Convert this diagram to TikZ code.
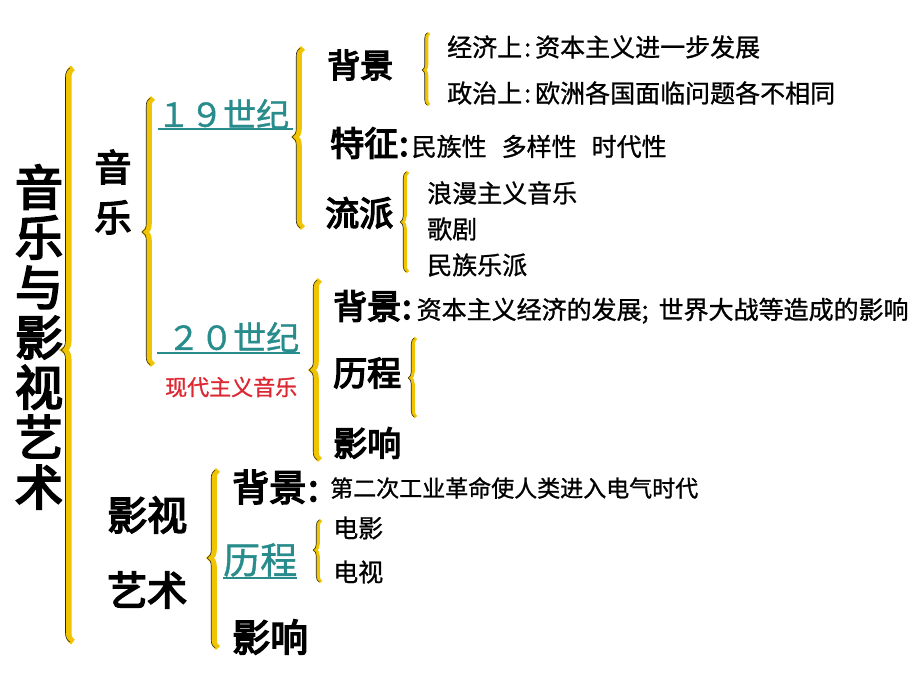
\documentclass[tikz,border=0pt]{standalone}
\usepackage{fontspec}
\setmainfont{Noto Sans CJK SC}[FakeBold=1]
\newfontfamily\heavy{Noto Sans CJK SC}[FakeBold=4]
\usetikzlibrary{decorations.pathreplacing}
\definecolor{bryellow}{RGB}{240,196,0}
\definecolor{teal19}{RGB}{40,140,140}
\definecolor{redtxt}{RGB}{220,40,50}
\tikzset{
  ybr/.style={draw=bryellow, line width=#1, decorate},
  ybr/.default=4pt,
  ybo/.style={draw=black!85, line width=0.6pt, decorate},
  lbl/.style={anchor=west, inner sep=0pt, text=black},
  linkline/.style={draw=teal19, line width=1.2pt},
}
\newcommand\ybrace[6]{%
  \pgfmathsetmacro\asp{(#3-#4)/(#3-#2)}%
  \draw[ybr=#6, decoration={brace, amplitude=#5, aspect=\asp}] (#1,#3) -- (#1,#2);
  \draw[ybo, decoration={brace, amplitude=#5, aspect=\asp}, xshift=-#6/2] (#1,#3) -- (#1,#2);
}
\newcommand\cln{\hspace{2pt}:\hspace{4pt}}
\begin{document}
\begin{tikzpicture}[x=1pt,y=-1pt]
\useasboundingbox[fill=white] (0,0) rectangle (920,690);
% braces
\ybrace{73}{68}{642}{350}{9pt}{6pt}
\ybrace{153}{98}{365}{232}{8pt}{5.5pt}
\ybrace{303}{48}{228}{137}{8pt}{5.5pt}
\ybrace{429}{33}{105}{70}{5pt}{3.5pt}
\ybrace{408}{172}{272}{222}{6pt}{3.5pt}
\ybrace{320}{280}{460}{370}{8pt}{5.5pt}
\ybrace{416}{338}{417}{378}{6pt}{3.5pt}
\ybrace{218}{470}{648}{558}{8pt}{5.5pt}
\ybrace{321}{520}{582}{550}{6pt}{3.5pt}
% title
\node[inner sep=0pt, align=center, font=\fontsize{48}{50}\selectfont\heavy] (title) at (39,337) {音\\乐\\与\\影\\视\\艺\\术};
\node[inner sep=0pt, align=center, font=\fontsize{37}{50}\selectfont\heavy] (yinyue) at (113,192) {音\\乐};
% 19th century
\node[lbl, text=teal19, font=\fontsize{33}{36}\selectfont] (c19) at (157,114) {１９世纪};
\draw[linkline] (158,129) -- (293,129);
\node[lbl, font=\fontsize{33}{36}\selectfont\heavy] (bj1) at (327,65) {背景};
\node[lbl, font=\fontsize{25}{28}\selectfont] (jj) at (447,47) {经济上\cln 资本主义进一步发展};
\node[lbl, font=\fontsize{25}{28}\selectfont] (zz) at (447,93) {政治上\cln 欧洲各国面临问题各不相同};
\node[lbl] (tz) at (330,143) {\fontsize{34}{36}\selectfont\heavy 特征\hspace{1pt}:\hspace{3pt}\normalfont\fontsize{25}{28}\selectfont 民族性\hspace{15pt}多样性\hspace{15pt}时代性};
\node[lbl, font=\fontsize{34}{36}\selectfont\heavy] (lp) at (325,213) {流派};
\node[lbl, font=\fontsize{25}{28}\selectfont] (lm) at (427,193) {浪漫主义音乐};
\node[lbl, font=\fontsize{25}{28}\selectfont] (gj) at (427,229) {歌剧};
\node[lbl, font=\fontsize{25}{28}\selectfont] (mz) at (427,265) {民族乐派};
% 20th century
\node[lbl, text=teal19, font=\fontsize{33}{36}\selectfont] (c20) at (167,337) {２０世纪};
\draw[linkline] (157,353) -- (300,353);
\node[lbl, text=redtxt, font=\fontsize{22}{24}\selectfont] (xd) at (165,387) {现代主义音乐};
\node[lbl] (bj2) at (333,307) {\fontsize{34}{36}\selectfont\heavy 背景\hspace{1pt}:\hspace{5pt}\normalfont\fontsize{25}{28}\selectfont 资本主义经济的发展;\hspace{10pt}世界大战等造成的影响};
\node[lbl, font=\fontsize{34}{36}\selectfont\heavy] (lc2) at (333,373) {历程};
\node[lbl, font=\fontsize{34}{36}\selectfont\heavy] (yx2) at (333,443) {影响};
% film & tv
\node[lbl, font=\fontsize{40}{44}\selectfont\heavy] (ys) at (107,515) {影视};
\node[lbl, font=\fontsize{40}{44}\selectfont\heavy] (ysh) at (107,590) {艺术};
\node[lbl, font=\fontsize{37}{40}\selectfont\heavy] (bj3) at (232,487) {背景\hspace{2pt}:};
\node[lbl, font=\fontsize{23}{26}\selectfont] (dr) at (330,488) {第二次工业革命使人类进入电气时代};
\node[lbl, text=teal19, font=\fontsize{37}{40}\selectfont] (lc3) at (223,560) {历程};
\draw[linkline] (223,578) -- (297,578);
\node[lbl, font=\fontsize{25}{28}\selectfont] (dy) at (333,528) {电影};
\node[lbl, font=\fontsize{25}{28}\selectfont] (ds) at (333,572) {电视};
\node[lbl, font=\fontsize{38}{40}\selectfont\heavy] (yx3) at (232,637) {影响};
\end{tikzpicture}
\end{document}
